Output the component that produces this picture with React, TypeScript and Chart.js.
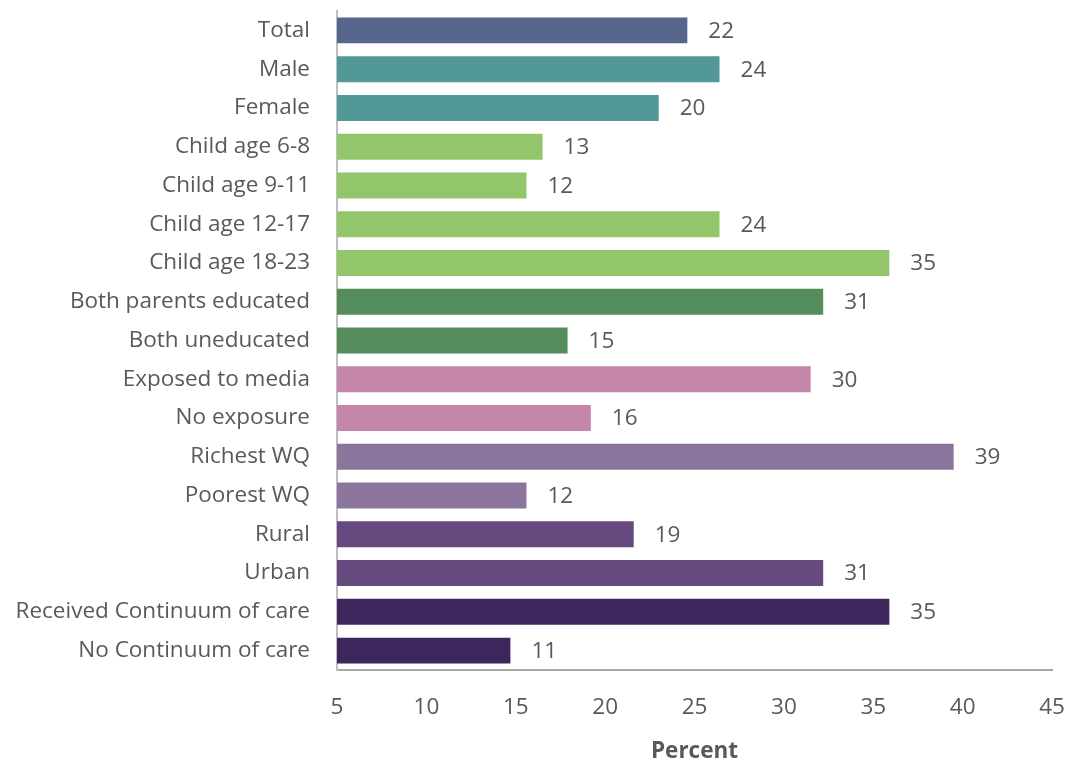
import React, { useEffect, useRef } from "react";
import { Chart, registerables } from "chart.js";

Chart.register(...registerables);

const categories = [
  "Total",
  "Male",
  "Female",
  "Child age 6-8",
  "Child age 9-11",
  "Child age 12-17",
  "Child age 18-23",
  "Both parents educated",
  "Both uneducated",
  "Exposed to media",
  "No exposure",
  "Richest WQ",
  "Poorest WQ",
  "Rural",
  "Urban",
  "Received Continuum of care",
  "No Continuum of care",
];

// bar lengths as drawn
const barValues = [24.6, 26.4, 23.0, 16.5, 15.6, 26.4, 35.9, 32.2, 17.9, 31.5, 19.2, 39.5, 15.6, 21.6, 32.2, 35.9, 14.7];

// printed value labels
const valueLabels = ["22", "24", "20", "13", "12", "24", "35", "31", "15", "30", "16", "39", "12", "19", "31", "35", "11"];

const barColors = [
  "#55658c",
  "#519896",
  "#519896",
  "#93c66a",
  "#93c66a",
  "#93c66a",
  "#93c66a",
  "#548c5c",
  "#548c5c",
  "#c586ac",
  "#c586ac",
  "#8b759c",
  "#8b759c",
  "#644a7e",
  "#644a7e",
  "#3d265c",
  "#3d265c",
];

const xMin = 5;
const xMax = 45;
const xStep = 5;
const xTitle = "Percent";

const FONT = "'Open Sans', sans-serif";
const FS = 22.5;
const TEXT = "#595959";

const labelPlugin = {
  id: "valueLabels",
  afterDatasetsDraw(chart: any) {
    const ctx = chart.ctx;
    const meta = chart.getDatasetMeta(0);
    ctx.save();
    ctx.font = `${FS}px ${FONT}`;
    ctx.fillStyle = TEXT;
    ctx.textAlign = "left";
    ctx.textBaseline = "middle";
    meta.data.forEach((el: any, i: number) => {
      ctx.fillText(valueLabels[i], el.x + 21, el.y + 1);
    });
    ctx.restore();
  },
};

export default function App() {
  const ref = useRef<HTMLCanvasElement | null>(null);
  useEffect(() => {
    if (!ref.current) return;
    const chart = new Chart(ref.current, {
      type: "bar",
      data: {
        labels: categories,
        datasets: [
          {
            data: barValues,
            backgroundColor: barColors,
            borderWidth: 0,
            barPercentage: 0.67,
            categoryPercentage: 1,
          },
        ],
      },
      options: {
        indexAxis: "y",
        animation: false,
        responsive: true,
        maintainAspectRatio: false,
        layout: { padding: { top: 11, right: 17, left: 0, bottom: 0 } },
        plugins: {
          legend: { display: false },
          tooltip: { enabled: false },
        },
        scales: {
          x: {
            min: xMin,
            max: xMax,
            grid: { display: false, drawTicks: false },
            border: { display: true, color: "#a6a6a6", width: 2 },
            ticks: {
              stepSize: xStep,
              padding: 24,
              color: TEXT,
              font: { family: FONT, size: FS },
            },
            title: {
              display: true,
              text: xTitle,
              color: TEXT,
              font: { family: FONT, size: FS, weight: "bold" },
              padding: { top: 12, bottom: -5 },
            },
            afterFit(scale: any) {
              scale.height = 90;
              scale.paddingLeft = 0;
              scale.paddingRight = 0;
            },
          },
          y: {
            grid: { display: false, drawTicks: false },
            border: { display: true, color: "#bfbfbf", width: 2 },
            ticks: {
              padding: 27,
              color: TEXT,
              font: { family: FONT, size: FS },
              autoSkip: false,
            },
            afterFit(scale: any) {
              scale.width = 337;
              scale.paddingTop = 0;
              scale.paddingBottom = 0;
            },
          },
        },
      },
      plugins: [labelPlugin],
    });
    return () => chart.destroy();
  }, []);
  return (
    <div style={{ position: "absolute", left: 0, top: 0, width: 1069, height: 760, background: "#fff" }}>
      <canvas ref={ref} />
    </div>
  );
}
